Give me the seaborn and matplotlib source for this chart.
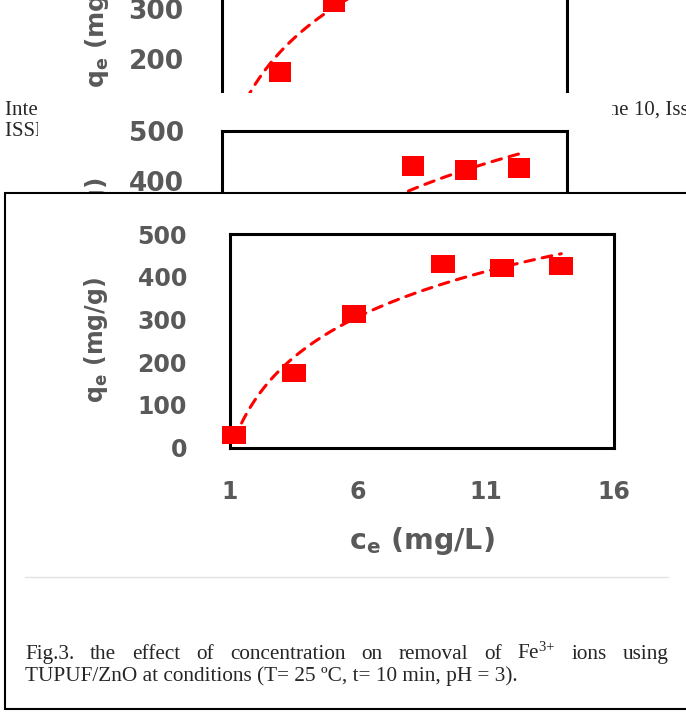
import numpy as np
import pandas as pd
import seaborn as sns
import matplotlib.pyplot as plt
from matplotlib.patches import Rectangle
from matplotlib.lines import Line2D

# data
ce = [1.17, 3.51, 5.86, 9.31, 11.61, 13.94]   # mg/L
qe = [30, 174, 313, 429, 421, 426]            # mg/g
x_ticks = [1, 6, 11, 16]
y_ticks = [0, 100, 200, 300, 400, 500]

caption_words = ['Fig.3.', 'the', 'effect', 'of', 'concentration', 'on',
                 'removal', 'of', r'$\mathregular{Fe^{3{+}}}$', 'ions', 'using']
caption_line2 = 'TUPUF/ZnO at conditions (T= 25 \u00baC, t= 10 min, pH = 3).'

W, H = 686, 712
GREY = '#595959'
RED = '#ff0000'


def fx(px):
    return px / W


def fy(py):
    return 1 - py / H


def axes_rect(left, top, right, bottom):
    return [fx(left), fy(bottom), (right - left) / W, (bottom - top) / H]


def draw_chart(ax, tick_fs, xlab_fs, ylab_fs, mk_w, mk_aspect, ypad, xpad, ylab_pos, xlab_pos):
    df = pd.DataFrame({'ce': ce, 'qe': qe})
    # logarithmic trendline (as in the spreadsheet original)
    sns.regplot(data=df, x='ce', y='qe', logx=True, ci=None, scatter=False,
                truncate=True, ax=ax,
                line_kws=dict(color=RED, lw=2.2, ls=(0, (3.2, 2.6)),
                              dash_capstyle='round', zorder=2))
    verts = [(-1, -mk_aspect), (1, -mk_aspect), (1, mk_aspect), (-1, mk_aspect), (-1, -mk_aspect)]
    size_pt = mk_w * 72 / 100
    sns.scatterplot(data=df, x='ce', y='qe', ax=ax, marker=verts, s=size_pt ** 2,
                    color=RED, linewidth=0, zorder=3, clip_on=False, legend=False)

    ax.set_xlim(1, 16)
    ax.set_ylim(0, 500)
    ax.set_xticks(x_ticks)
    ax.set_yticks(y_ticks)
    ax.grid(False)
    for s in ax.spines.values():
        s.set_visible(True)
        s.set_color('black')
        s.set_linewidth(2.2)
    ax.tick_params(axis='both', length=0, labelcolor=GREY, labelsize=tick_fs)
    ax.tick_params(axis='y', pad=ypad)
    ax.tick_params(axis='x', pad=xpad)
    for lab in ax.get_xticklabels() + ax.get_yticklabels():
        lab.set_fontweight('bold')

    ax.set_xlabel(r'$\mathregular{c_e}$ (mg/L)', fontsize=xlab_fs, color=GREY,
                  fontweight='bold')
    ax.set_ylabel(r'$\mathregular{q_e}$ (mg/g)', fontsize=ylab_fs, color=GREY,
                  fontweight='bold')
    ax.xaxis.set_label_coords(*xlab_pos)
    ax.yaxis.set_label_coords(*ylab_pos)
    ax.xaxis.label.set_va('center')
    ax.yaxis.label.set_va('center')


sns.set_style('white')
plt.rcParams['font.family'] = ['DejaVu Sans']

fig = plt.figure(figsize=(6.86, 7.12), dpi=100)
fig.patch.set_facecolor('white')

serif = 'Liberation Serif'

# page header peeking out behind the pasted images
fig.text(fx(5), fy(115), 'International Journal of', family=serif, fontsize=15,
         va='baseline', zorder=1)
fig.text(fx(5), fy(136.5), 'ISSN: 2349-0000', family=serif, fontsize=15,
         va='baseline', zorder=1)
fig.text(fx(629), fy(115), 'Volume', family=serif, fontsize=15,
         ha='right', va='baseline', zorder=1)
fig.text(fx(634), fy(115), '10, Issue 1', family=serif, fontsize=15,
         ha='left', va='baseline', zorder=1)

# copy A (top, cut off)
ax_a = fig.add_axes(axes_rect(222, -91.3, 566.7, 158.7))
ax_a.set_zorder(2)
draw_chart(ax_a, 19, 19, 18, 22, 0.94, 27.5, 26, (-0.363, 0.547), (0.5, -0.42))

# copy B (white image background)
fig.add_artist(Rectangle((fx(38), fy(420)), (612 - 38) / W, (420 - 93) / H,
                         transform=fig.transFigure, facecolor='white',
                         edgecolor='none', zorder=3))
ax_b = fig.add_axes(axes_rect(222, 130.7, 566.7, 380.7))
ax_b.set_zorder(4)
draw_chart(ax_b, 19, 19, 18, 22, 0.94, 27.5, 26, (-0.363, 0.547), (0.5, -0.42))

# main figure frame
fig.add_artist(Rectangle((fx(5), fy(709)), (700 - 5) / W, (709 - 193) / H,
                         transform=fig.transFigure, facecolor='white',
                         edgecolor='black', linewidth=1.5, zorder=5))

ax = fig.add_axes(axes_rect(230, 234, 614, 447.7))
ax.set_zorder(6)
draw_chart(ax, 17, 20.5, 17, 24, 0.73, 31, 23, (-0.349, 0.505), (0.5, -0.435))

fig.add_artist(Line2D([fx(25), fx(668)], [fy(576.5), fy(576.5)], color='#e2e2e2',
                      lw=1, transform=fig.transFigure, zorder=7))

# caption, first line justified between 25 and 669 px
renderer = fig.canvas.get_renderer()
texts = [fig.text(0, fy(659), w, family=serif, fontsize=15.3, va='baseline', zorder=7)
         for w in caption_words]
widths = [t.get_window_extent(renderer).width for t in texts]
gap = (669 - 25 - sum(widths)) / (len(texts) - 1)
xpos = 25
for t, w in zip(texts, widths):
    t.set_x(fx(xpos))
    xpos += w + gap

fig.text(fx(25), fy(681), caption_line2, family=serif, fontsize=15.3,
         va='baseline', zorder=7)

fig.savefig('out.png', dpi=100)
